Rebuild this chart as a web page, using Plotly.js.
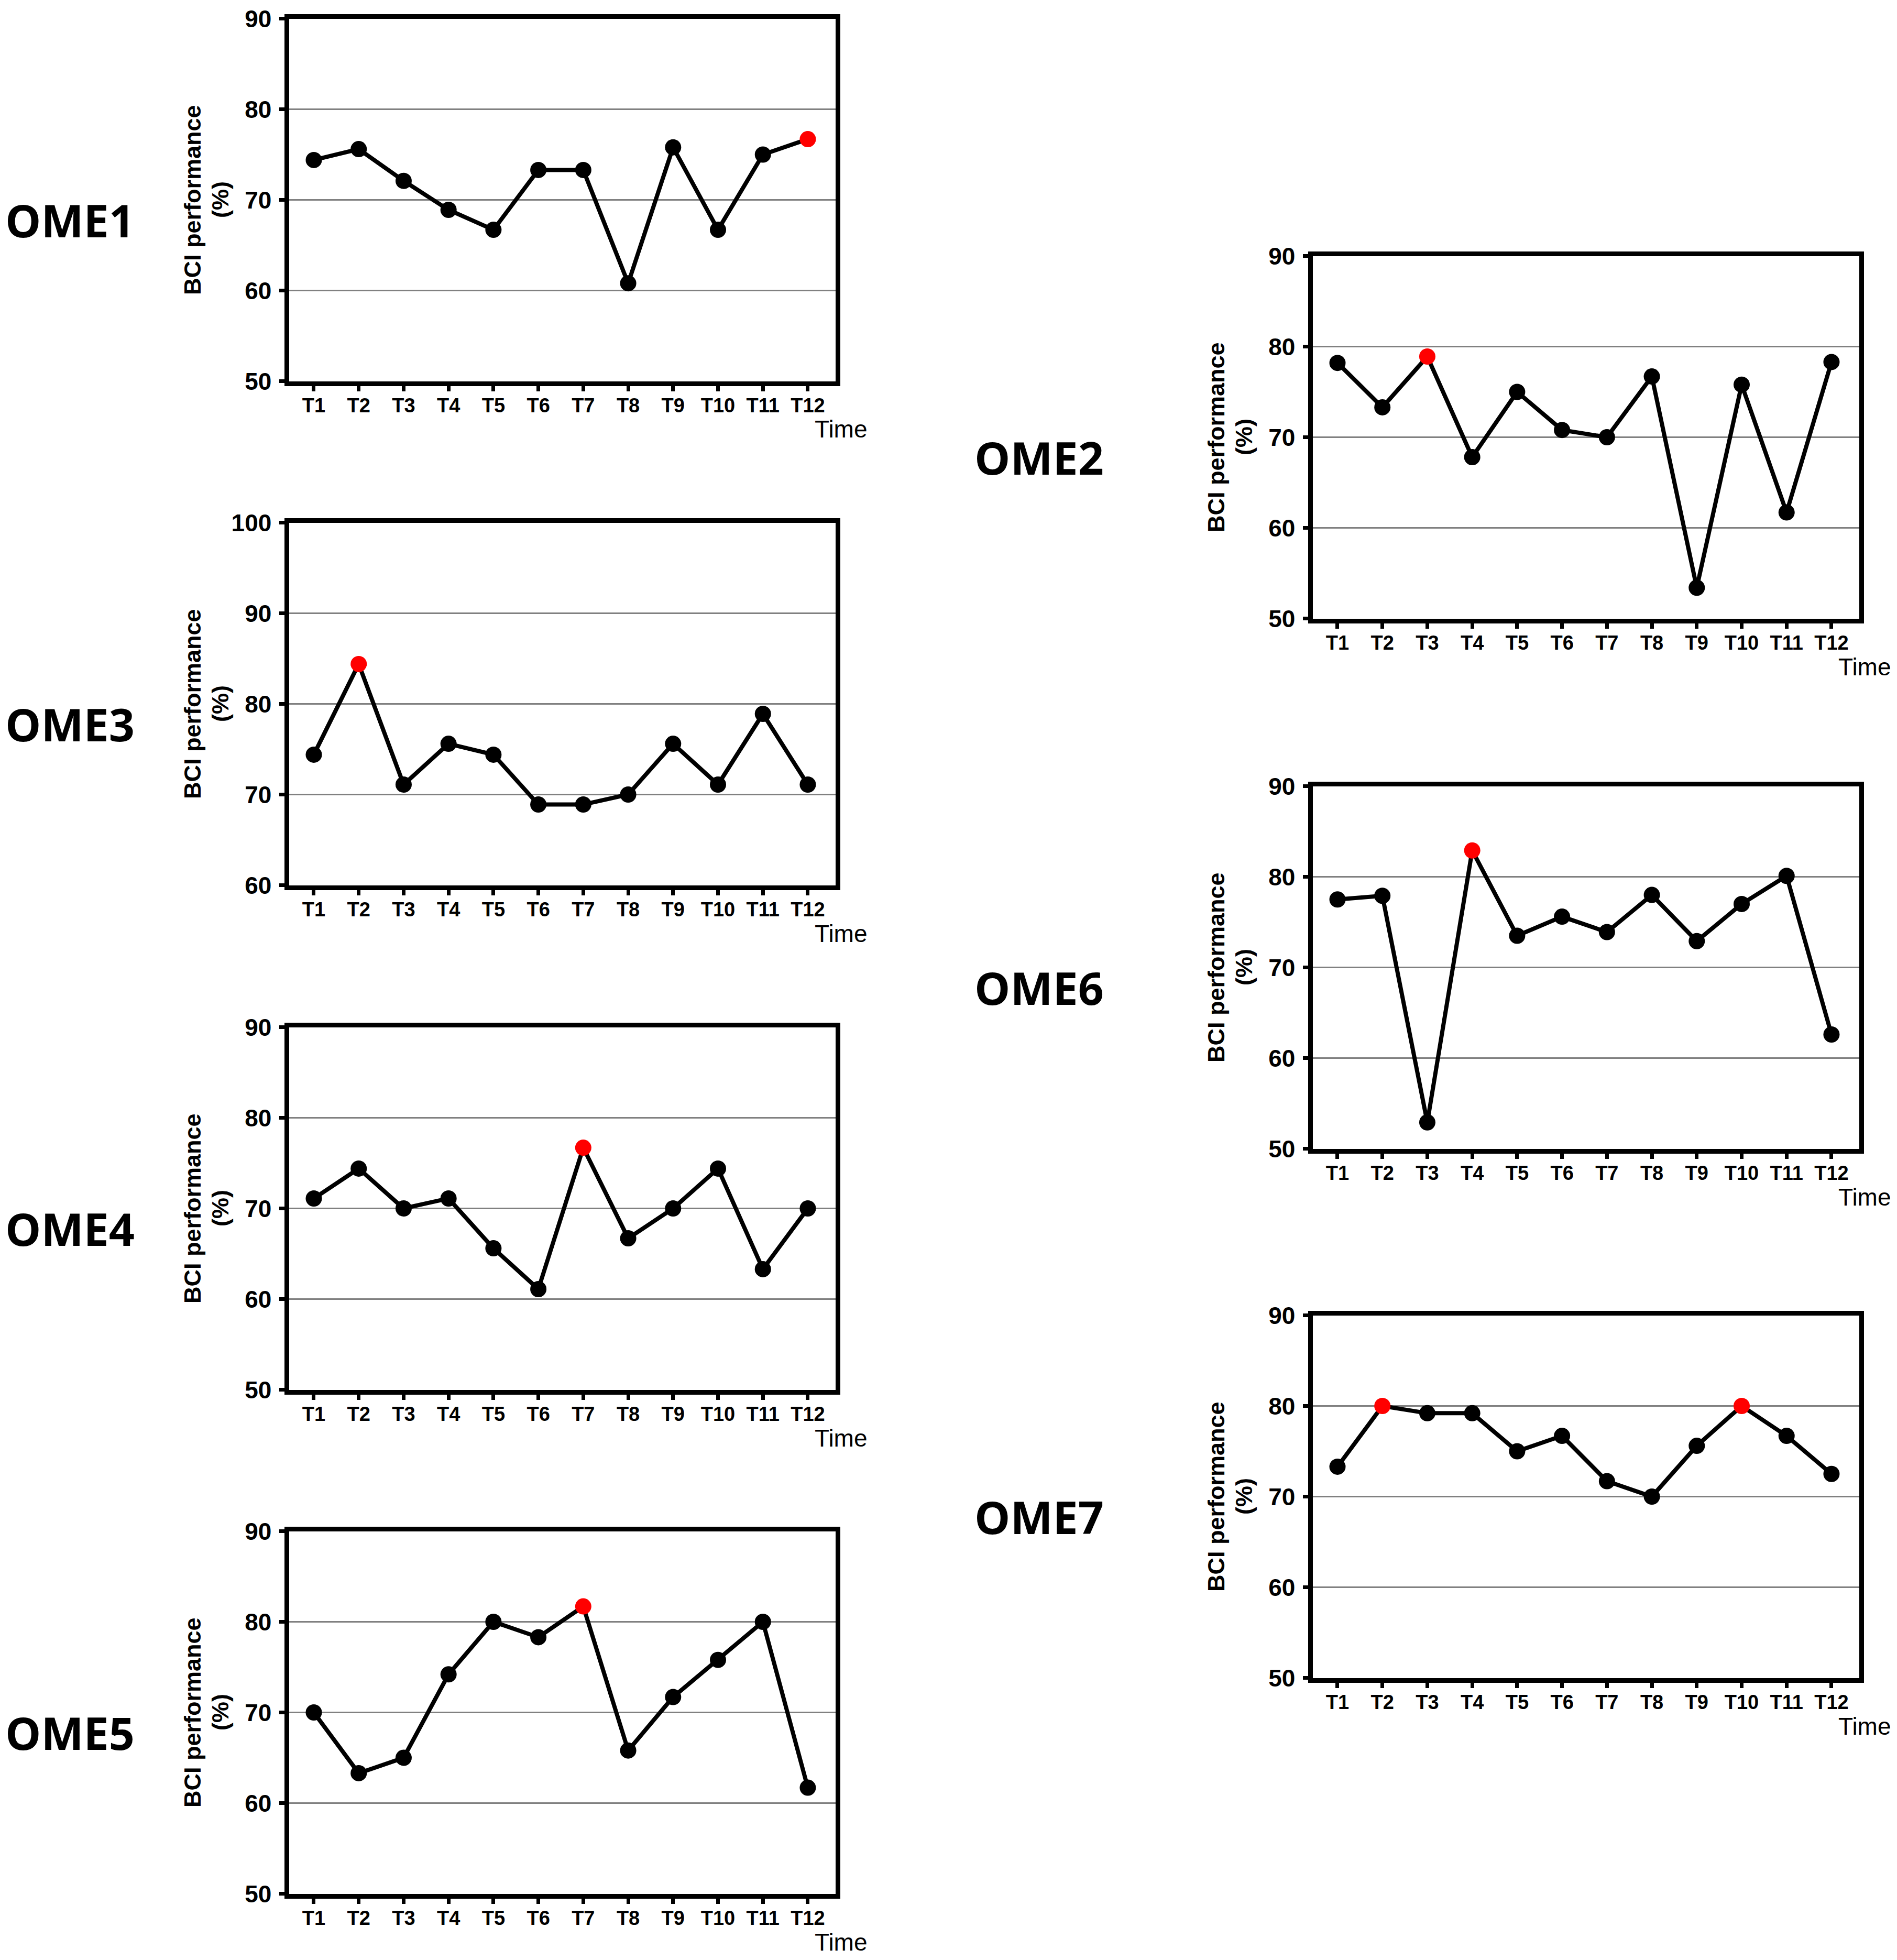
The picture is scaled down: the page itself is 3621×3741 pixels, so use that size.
<!DOCTYPE html>
<html>
<head>
<meta charset="utf-8">
<script src="https://cdn.plot.ly/plotly-3.0.1.min.js"></script>
<style>
  body { margin: 0; background: #fff; }
  #chart { width: 3621px; height: 3741px; }
</style>
</head>
<body>
<div id="chart"></div>
<script>
// session labels on the x axis
const timeLabels = ['T1', 'T2', 'T3', 'T4', 'T5', 'T6', 'T7', 'T8', 'T9', 'T10', 'T11', 'T12'];

// BCI performance (%) per subject
const ome1 = [74.4, 75.6, 72.1, 68.9, 66.7, 73.3, 73.3, 60.8, 75.8, 66.7, 75.0, 76.7];
const ome2 = [78.2, 73.3, 78.9, 67.8, 75.0, 70.8, 70.0, 76.7, 53.4, 75.8, 61.7, 78.3];
const ome3 = [74.4, 84.4, 71.1, 75.6, 74.4, 68.9, 68.9, 70.0, 75.6, 71.1, 78.9, 71.1];
const ome4 = [71.1, 74.4, 70.0, 71.1, 65.6, 61.1, 76.7, 66.7, 70.0, 74.4, 63.3, 70.0];
const ome5 = [70.0, 63.3, 65.0, 74.2, 80.0, 78.3, 81.7, 65.8, 71.7, 75.8, 80.0, 61.7];
const ome6 = [77.5, 77.9, 52.9, 82.9, 73.5, 75.6, 73.9, 78.0, 72.9, 77.0, 80.1, 62.6];
const ome7 = [73.3, 80.0, 79.2, 79.2, 75.0, 76.7, 71.7, 70.0, 75.6, 80.0, 76.7, 72.5];

// sessions marked in red (best session)
const ome1Best = ['T12'];
const ome2Best = ['T3'];
const ome3Best = ['T2'];
const ome4Best = ['T7'];
const ome5Best = ['T7'];
const ome6Best = ['T4'];
const ome7Best = ['T2', 'T10'];

// y axis ranges
const ome1Range = [50, 90];
const ome2Range = [50, 90];
const ome3Range = [60, 100];
const ome4Range = [50, 90];
const ome5Range = [50, 90];
const ome6Range = [50, 90];
const ome7Range = [50, 90];

const W = 3621, H = 3741;
const LW = 9;                 // frame line width (drawn outside the domain)
const PW = 1052 - LW, PH = 701 - LW;
const leftX = 547 + LW / 2, rightX = 2501 + LW / 2;

const panels = [
  { name: 'OME1', y: ome1, best: ome1Best, range: ome1Range, left: leftX, top: 31, labelX: 8 },
  { name: 'OME2', y: ome2, best: ome2Best, range: ome2Range, left: rightX, top: 484, labelX: 1858 },
  { name: 'OME3', y: ome3, best: ome3Best, range: ome3Range, left: leftX, top: 993, labelX: 8 },
  { name: 'OME4', y: ome4, best: ome4Best, range: ome4Range, left: leftX, top: 1956, labelX: 8 },
  { name: 'OME5', y: ome5, best: ome5Best, range: ome5Range, left: leftX, top: 2918, labelX: 8 },
  { name: 'OME6', y: ome6, best: ome6Best, range: ome6Range, left: rightX, top: 1496, labelX: 1858 },
  { name: 'OME7', y: ome7, best: ome7Best, range: ome7Range, left: rightX, top: 2506, labelX: 1858 },
];

const tickFont = { family: 'Liberation Sans, Arial, sans-serif', size: 46, color: '#000', weight: 'bold' };
const xTickFont = { family: 'Liberation Sans, Arial, sans-serif', size: 38, color: '#000', weight: 'bold' };
const titleFont = { family: 'Liberation Sans, Arial, sans-serif', size: 45, color: '#000', weight: 'bold' };

const data = [];
const layout = {
  width: W, height: H,
  margin: { l: 0, r: 0, t: 0, b: 0 },
  paper_bgcolor: '#fff',
  plot_bgcolor: '#fff',
  showlegend: false,
  annotations: [],
};

panels.forEach((p, i) => {
  const n = i === 0 ? '' : String(i + 1);
  const top = p.top + LW / 2;
  data.push({
    type: 'scatter',
    mode: 'lines+markers',
    x: timeLabels,
    y: p.y,
    xaxis: 'x' + n,
    yaxis: 'y' + n,
    line: { color: '#000', width: 8 },
    marker: { size: 31, color: timeLabels.map(t => p.best.includes(t) ? '#ff0000' : '#000') },
    hoverinfo: 'x+y',
  });

  const axisCommon = {
    showline: true, linecolor: '#000', linewidth: LW, mirror: true,
    ticks: 'outside', ticklen: 10, tickwidth: 7, tickcolor: '#000',
    zeroline: false, fixedrange: true,
  };

  layout['xaxis' + n] = Object.assign({}, axisCommon, {
    domain: [p.left / W, (p.left + PW) / W],
    anchor: 'y' + n,
    type: 'category',
    range: [-0.554, 11.613],
    showgrid: false,
    tickfont: xTickFont,
    ticklabelstandoff: -5,
  });

  layout['yaxis' + n] = Object.assign({}, axisCommon, {
    domain: [1 - (top + PH) / H, 1 - top / H],
    anchor: 'x' + n,
    range: p.range,
    dtick: 10,
    showgrid: true, gridcolor: '#808080', gridwidth: 2.5,
    tickfont: tickFont,
    ticklabelstandoff: 5,
  });

  const xd = 'x' + n + ' domain', yd = 'y' + n + ' domain';
  layout.annotations.push(
    { xref: xd, yref: yd, x: -184 / PW, y: 0.5, text: 'BCI performance', textangle: -90,
      showarrow: false, xanchor: 'center', yanchor: 'middle', font: titleFont },
    { xref: xd, yref: yd, x: -131 / PW, y: 0.5, text: '(%)', textangle: -90,
      showarrow: false, xanchor: 'center', yanchor: 'middle', font: titleFont },
    { xref: xd, yref: yd, x: (1658 - 551.5) / PW, y: -92 / PH, text: 'Time',
      showarrow: false, xanchor: 'right', yanchor: 'middle',
      font: { family: 'Liberation Sans, Arial, sans-serif', size: 46, color: '#000' } },
    { xref: 'paper', yref: 'paper', x: p.labelX / W, y: 1 - (p.top + 701 / 2 + 38) / H,
      text: p.name, showarrow: false, xanchor: 'left', yanchor: 'middle',
      font: { family: 'Open Sans, Noto Sans, sans-serif', size: 86, color: '#000', weight: 'bold' } }
  );
});

Plotly.newPlot('chart', data, layout, { staticPlot: true, displayModeBar: false });
</script>
</body>
</html>
